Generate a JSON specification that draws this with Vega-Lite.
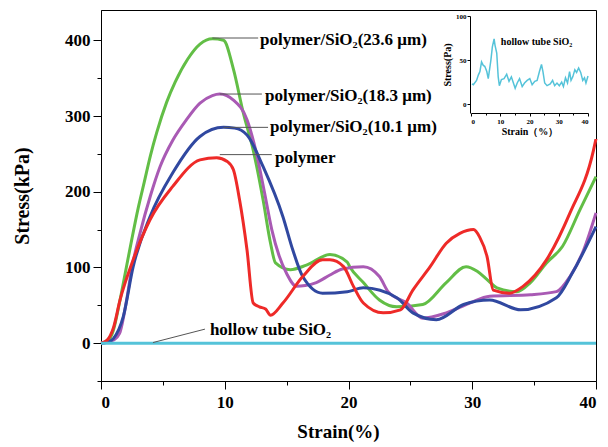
{
  "$schema": "https://vega.github.io/schema/vega-lite/v6.json",
  "width": 495,
  "height": 371,
  "autosize": {"type": "none"},
  "padding": {"left": 101, "top": 10, "right": 12, "bottom": 66},
  "config": {
    "view": {"stroke": "black", "strokeWidth": 1},
    "font": "Liberation Serif",
    "axis": {
      "grid": false,
      "domainColor": "black",
      "tickColor": "black",
      "labelColor": "black",
      "titleColor": "black",
      "labelFont": "Liberation Serif",
      "titleFont": "Liberation Serif",
      "labelFontWeight": "bold",
      "titleFontWeight": "bold"
    }
  },
  "datasets": {
    "main": [
      {"s": "polymer/SiO2(23.6)", "x": 0, "y": 0},
      {"s": "polymer/SiO2(23.6)", "x": 0.5, "y": 2},
      {"s": "polymer/SiO2(23.6)", "x": 1, "y": 17},
      {"s": "polymer/SiO2(23.6)", "x": 1.5, "y": 54},
      {"s": "polymer/SiO2(23.6)", "x": 2, "y": 96},
      {"s": "polymer/SiO2(23.6)", "x": 2.5, "y": 138},
      {"s": "polymer/SiO2(23.6)", "x": 3, "y": 178},
      {"s": "polymer/SiO2(23.6)", "x": 3.5, "y": 213},
      {"s": "polymer/SiO2(23.6)", "x": 4, "y": 248},
      {"s": "polymer/SiO2(23.6)", "x": 4.5, "y": 278},
      {"s": "polymer/SiO2(23.6)", "x": 5.3, "y": 318},
      {"s": "polymer/SiO2(23.6)", "x": 6, "y": 345},
      {"s": "polymer/SiO2(23.6)", "x": 7, "y": 375},
      {"s": "polymer/SiO2(23.6)", "x": 8, "y": 395},
      {"s": "polymer/SiO2(23.6)", "x": 9, "y": 402},
      {"s": "polymer/SiO2(23.6)", "x": 9.9, "y": 400},
      {"s": "polymer/SiO2(23.6)", "x": 10.7, "y": 362},
      {"s": "polymer/SiO2(23.6)", "x": 11.5, "y": 304},
      {"s": "polymer/SiO2(23.6)", "x": 12.3, "y": 255},
      {"s": "polymer/SiO2(23.6)", "x": 13.1, "y": 189},
      {"s": "polymer/SiO2(23.6)", "x": 13.7, "y": 132},
      {"s": "polymer/SiO2(23.6)", "x": 14.1, "y": 106},
      {"s": "polymer/SiO2(23.6)", "x": 15.3, "y": 97},
      {"s": "polymer/SiO2(23.6)", "x": 16.6, "y": 103},
      {"s": "polymer/SiO2(23.6)", "x": 18.5, "y": 117},
      {"s": "polymer/SiO2(23.6)", "x": 19.9, "y": 107},
      {"s": "polymer/SiO2(23.6)", "x": 20.1, "y": 101},
      {"s": "polymer/SiO2(23.6)", "x": 21.2, "y": 80},
      {"s": "polymer/SiO2(23.6)", "x": 22.5, "y": 57},
      {"s": "polymer/SiO2(23.6)", "x": 23.9, "y": 48},
      {"s": "polymer/SiO2(23.6)", "x": 26.0, "y": 51},
      {"s": "polymer/SiO2(23.6)", "x": 27.9, "y": 80},
      {"s": "polymer/SiO2(23.6)", "x": 29.5, "y": 101},
      {"s": "polymer/SiO2(23.6)", "x": 30.4, "y": 95},
      {"s": "polymer/SiO2(23.6)", "x": 31.2, "y": 84},
      {"s": "polymer/SiO2(23.6)", "x": 32.0, "y": 73},
      {"s": "polymer/SiO2(23.6)", "x": 33.6, "y": 68},
      {"s": "polymer/SiO2(23.6)", "x": 34.7, "y": 80},
      {"s": "polymer/SiO2(23.6)", "x": 36.0, "y": 106},
      {"s": "polymer/SiO2(23.6)", "x": 37.3, "y": 128},
      {"s": "polymer/SiO2(23.6)", "x": 38.7, "y": 176},
      {"s": "polymer/SiO2(23.6)", "x": 40, "y": 220},

      {"s": "polymer/SiO2(18.3)", "x": 0, "y": 0},
      {"s": "polymer/SiO2(18.3)", "x": 0.5, "y": 1},
      {"s": "polymer/SiO2(18.3)", "x": 1, "y": 4},
      {"s": "polymer/SiO2(18.3)", "x": 1.5, "y": 13},
      {"s": "polymer/SiO2(18.3)", "x": 2.07, "y": 57},
      {"s": "polymer/SiO2(18.3)", "x": 2.5, "y": 100},
      {"s": "polymer/SiO2(18.3)", "x": 3.15, "y": 145},
      {"s": "polymer/SiO2(18.3)", "x": 4, "y": 195},
      {"s": "polymer/SiO2(18.3)", "x": 4.77, "y": 233},
      {"s": "polymer/SiO2(18.3)", "x": 5.8, "y": 268},
      {"s": "polymer/SiO2(18.3)", "x": 6.9, "y": 295},
      {"s": "polymer/SiO2(18.3)", "x": 8.0, "y": 317},
      {"s": "polymer/SiO2(18.3)", "x": 9.0, "y": 327},
      {"s": "polymer/SiO2(18.3)", "x": 9.6, "y": 329},
      {"s": "polymer/SiO2(18.3)", "x": 10.7, "y": 321},
      {"s": "polymer/SiO2(18.3)", "x": 11.8, "y": 295},
      {"s": "polymer/SiO2(18.3)", "x": 12.5, "y": 255},
      {"s": "polymer/SiO2(18.3)", "x": 13.2, "y": 200},
      {"s": "polymer/SiO2(18.3)", "x": 13.8, "y": 150},
      {"s": "polymer/SiO2(18.3)", "x": 14.4, "y": 115},
      {"s": "polymer/SiO2(18.3)", "x": 15.0, "y": 92},
      {"s": "polymer/SiO2(18.3)", "x": 15.8, "y": 75},
      {"s": "polymer/SiO2(18.3)", "x": 16.5, "y": 76},
      {"s": "polymer/SiO2(18.3)", "x": 17.4, "y": 80},
      {"s": "polymer/SiO2(18.3)", "x": 18.5, "y": 90},
      {"s": "polymer/SiO2(18.3)", "x": 19.5, "y": 98},
      {"s": "polymer/SiO2(18.3)", "x": 21.2, "y": 101},
      {"s": "polymer/SiO2(18.3)", "x": 22.5, "y": 88},
      {"s": "polymer/SiO2(18.3)", "x": 23.2, "y": 68},
      {"s": "polymer/SiO2(18.3)", "x": 24.7, "y": 53},
      {"s": "polymer/SiO2(18.3)", "x": 26.0, "y": 33},
      {"s": "polymer/SiO2(18.3)", "x": 27.9, "y": 40},
      {"s": "polymer/SiO2(18.3)", "x": 29.8, "y": 53},
      {"s": "polymer/SiO2(18.3)", "x": 31.4, "y": 62},
      {"s": "polymer/SiO2(18.3)", "x": 34.7, "y": 64},
      {"s": "polymer/SiO2(18.3)", "x": 36.8, "y": 68},
      {"s": "polymer/SiO2(18.3)", "x": 37.9, "y": 88},
      {"s": "polymer/SiO2(18.3)", "x": 39.0, "y": 123},
      {"s": "polymer/SiO2(18.3)", "x": 40, "y": 172},

      {"s": "polymer/SiO2(10.1)", "x": 0, "y": 0},
      {"s": "polymer/SiO2(10.1)", "x": 0.5, "y": 1},
      {"s": "polymer/SiO2(10.1)", "x": 1, "y": 6},
      {"s": "polymer/SiO2(10.1)", "x": 1.8, "y": 35},
      {"s": "polymer/SiO2(10.1)", "x": 2.6, "y": 101},
      {"s": "polymer/SiO2(10.1)", "x": 3.96, "y": 167},
      {"s": "polymer/SiO2(10.1)", "x": 5.8, "y": 225},
      {"s": "polymer/SiO2(10.1)", "x": 8.0, "y": 273},
      {"s": "polymer/SiO2(10.1)", "x": 9.9, "y": 285},
      {"s": "polymer/SiO2(10.1)", "x": 10.8, "y": 284},
      {"s": "polymer/SiO2(10.1)", "x": 11.8, "y": 275},
      {"s": "polymer/SiO2(10.1)", "x": 13.1, "y": 233},
      {"s": "polymer/SiO2(10.1)", "x": 14.7, "y": 167},
      {"s": "polymer/SiO2(10.1)", "x": 15.5, "y": 123},
      {"s": "polymer/SiO2(10.1)", "x": 16.3, "y": 88},
      {"s": "polymer/SiO2(10.1)", "x": 17.9, "y": 66},
      {"s": "polymer/SiO2(10.1)", "x": 19.9, "y": 68},
      {"s": "polymer/SiO2(10.1)", "x": 21.2, "y": 73},
      {"s": "polymer/SiO2(10.1)", "x": 23.9, "y": 60},
      {"s": "polymer/SiO2(10.1)", "x": 25.2, "y": 40},
      {"s": "polymer/SiO2(10.1)", "x": 27.1, "y": 31},
      {"s": "polymer/SiO2(10.1)", "x": 29.3, "y": 51},
      {"s": "polymer/SiO2(10.1)", "x": 31.4, "y": 57},
      {"s": "polymer/SiO2(10.1)", "x": 33.9, "y": 44},
      {"s": "polymer/SiO2(10.1)", "x": 36.8, "y": 60},
      {"s": "polymer/SiO2(10.1)", "x": 38.1, "y": 93},
      {"s": "polymer/SiO2(10.1)", "x": 40, "y": 154},

      {"s": "polymer", "x": 0, "y": 0},
      {"s": "polymer", "x": 0.5, "y": 4},
      {"s": "polymer", "x": 1, "y": 20},
      {"s": "polymer", "x": 1.54, "y": 57},
      {"s": "polymer", "x": 2.6, "y": 110},
      {"s": "polymer", "x": 3.96, "y": 163},
      {"s": "polymer", "x": 5.8, "y": 207},
      {"s": "polymer", "x": 8.0, "y": 242},
      {"s": "polymer", "x": 9.35, "y": 245},
      {"s": "polymer", "x": 10.2, "y": 240},
      {"s": "polymer", "x": 10.7, "y": 229},
      {"s": "polymer", "x": 11.2, "y": 189},
      {"s": "polymer", "x": 11.8, "y": 123},
      {"s": "polymer", "x": 12.3, "y": 53},
      {"s": "polymer", "x": 12.8, "y": 48},
      {"s": "polymer", "x": 13.3, "y": 45},
      {"s": "polymer", "x": 13.7, "y": 37},
      {"s": "polymer", "x": 14.7, "y": 53},
      {"s": "polymer", "x": 16.3, "y": 88},
      {"s": "polymer", "x": 17.9, "y": 110},
      {"s": "polymer", "x": 18.5, "y": 110},
      {"s": "polymer", "x": 19.6, "y": 101},
      {"s": "polymer", "x": 20.4, "y": 75},
      {"s": "polymer", "x": 21.2, "y": 53},
      {"s": "polymer", "x": 22.8, "y": 40},
      {"s": "polymer", "x": 24.2, "y": 44},
      {"s": "polymer", "x": 25.2, "y": 70},
      {"s": "polymer", "x": 26.6, "y": 101},
      {"s": "polymer", "x": 27.9, "y": 132},
      {"s": "polymer", "x": 29.0, "y": 145},
      {"s": "polymer", "x": 30.1, "y": 150},
      {"s": "polymer", "x": 30.6, "y": 140},
      {"s": "polymer", "x": 31.2, "y": 114},
      {"s": "polymer", "x": 31.7, "y": 70},
      {"s": "polymer", "x": 33.0, "y": 66},
      {"s": "polymer", "x": 34.1, "y": 75},
      {"s": "polymer", "x": 36.0, "y": 110},
      {"s": "polymer", "x": 37.9, "y": 172},
      {"s": "polymer", "x": 39.8, "y": 255},
      {"s": "polymer", "x": 40, "y": 270},

      {"s": "hollow tube SiO2", "x": 0, "y": 0},
      {"s": "hollow tube SiO2", "x": 40, "y": 0}
    ],
    "inset": [
      {"x": 0.34, "y": 23}, {"x": 0.8, "y": 22}, {"x": 1.9, "y": 27}, {"x": 2.5, "y": 33},
      {"x": 3.05, "y": 37}, {"x": 3.6, "y": 48}, {"x": 4.2, "y": 44}, {"x": 4.7, "y": 43},
      {"x": 5.4, "y": 37}, {"x": 5.9, "y": 29}, {"x": 6.8, "y": 50}, {"x": 7.3, "y": 65},
      {"x": 7.9, "y": 74}, {"x": 8.2, "y": 67}, {"x": 8.8, "y": 58}, {"x": 9.3, "y": 31},
      {"x": 9.7, "y": 21}, {"x": 10.4, "y": 28}, {"x": 11.3, "y": 29}, {"x": 12.2, "y": 34},
      {"x": 13.0, "y": 26}, {"x": 13.8, "y": 31}, {"x": 14.5, "y": 24}, {"x": 15.1, "y": 18},
      {"x": 15.8, "y": 24}, {"x": 16.6, "y": 29}, {"x": 17.5, "y": 20}, {"x": 18.3, "y": 24},
      {"x": 19.2, "y": 27}, {"x": 20.1, "y": 29}, {"x": 20.9, "y": 22}, {"x": 21.8, "y": 26},
      {"x": 22.6, "y": 27}, {"x": 23.4, "y": 37}, {"x": 24.1, "y": 45}, {"x": 24.6, "y": 37},
      {"x": 25.2, "y": 24}, {"x": 26.0, "y": 21}, {"x": 27.1, "y": 23}, {"x": 27.9, "y": 27},
      {"x": 28.6, "y": 21}, {"x": 29.4, "y": 24}, {"x": 30.2, "y": 21}, {"x": 31.0, "y": 25},
      {"x": 31.6, "y": 20}, {"x": 32.3, "y": 30}, {"x": 33.0, "y": 24}, {"x": 33.7, "y": 37},
      {"x": 34.2, "y": 27}, {"x": 34.8, "y": 31}, {"x": 35.5, "y": 39}, {"x": 36.1, "y": 36},
      {"x": 36.8, "y": 41}, {"x": 37.5, "y": 36}, {"x": 38.2, "y": 27}, {"x": 38.8, "y": 30},
      {"x": 39.3, "y": 24}, {"x": 40.0, "y": 32}
    ],
    "ann": [
      {"label": "polymer/SiO₂(23.6 μm)", "lx1": 9.0, "lx2": 12.7, "ly1": 403, "ly2": 403, "tx": 12.85, "ty": 400},
      {"label": "polymer/SiO₂(18.3 μm)", "lx1": 9.6, "lx2": 13.0, "ly1": 329, "ly2": 329, "tx": 13.25, "ty": 327},
      {"label": "polymer/SiO₂(10.1 μm)", "lx1": 9.9, "lx2": 13.5, "ly1": 285, "ly2": 285, "tx": 13.66, "ty": 285},
      {"label": "polymer", "lx1": 9.6, "lx2": 13.8, "ly1": 249, "ly2": 249, "tx": 14.06, "ty": 245},
      {"label": "hollow tube SiO₂", "lx1": 4.2, "lx2": 8.4, "ly1": 0.8, "ly2": 18.5, "tx": 8.8, "ty": 17.6}
    ]
  },
  "layer": [
    {
      "layer": [
        {
          "data": {"name": "main"},
          "mark": {"type": "line", "strokeWidth": 3, "strokeJoin": "round", "interpolate": "monotone"},
          "encoding": {
            "x": {
              "field": "x", "type": "quantitative",
              "scale": {"domain": [0, 40], "nice": false, "zero": false},
              "axis": {
                "title": "Strain(%)",
                "values": [0, 5, 10, 15, 20, 25, 30, 35, 40],
                "labelExpr": "datum.value % 10 === 0 ? datum.label : ''",
                "tickSize": {"condition": {"test": "datum.value % 10 === 0", "value": 8}, "value": 4},
                "labelFontSize": 17,
                "labelPadding": 5,
                "titleFontSize": 19,
                "titlePadding": 12,
                "titleX": 237
              }
            },
            "y": {
              "field": "y", "type": "quantitative",
              "scale": {"domain": [-50, 440], "nice": false, "zero": false},
              "axis": {
                "title": "Stress(kPa)",
                "values": [-50, 0, 50, 100, 150, 200, 250, 300, 350, 400],
                "labelExpr": "datum.value % 100 === 0 ? datum.label : ''",
                "tickSize": {"condition": {"test": "datum.value % 100 === 0", "value": 8}, "value": 4},
                "labelFontSize": 17,
                "labelPadding": 3,
                "titleFontSize": 20,
                "titlePadding": 32
              }
            },
            "color": {
              "field": "s", "type": "nominal", "legend": null,
              "scale": {
                "domain": ["polymer/SiO2(23.6)", "polymer/SiO2(18.3)", "polymer/SiO2(10.1)", "polymer", "hollow tube SiO2"],
                "range": ["#62be46", "#a95ab4", "#3048a0", "#ee2a28", "#55c3d9"]
              }
            },
            "strokeWidth": {
              "field": "s", "type": "nominal", "legend": null,
              "scale": {
                "domain": ["polymer/SiO2(23.6)", "polymer/SiO2(18.3)", "polymer/SiO2(10.1)", "polymer", "hollow tube SiO2"],
                "range": [3, 3, 3, 3, 4]
              }
            }
          }
        },
        {
          "data": {"name": "ann"},
          "mark": {"type": "rule", "color": "#555555", "strokeWidth": 1},
          "encoding": {
            "x": {"field": "lx1", "type": "quantitative", "scale": {"domain": [0, 40], "nice": false, "zero": false}},
            "x2": {"field": "lx2"},
            "y": {"field": "ly1", "type": "quantitative", "scale": {"domain": [-50, 440], "nice": false, "zero": false}},
            "y2": {"field": "ly2"}
          }
        },
        {
          "data": {"name": "ann"},
          "mark": {"type": "text", "align": "left", "baseline": "middle", "font": "Liberation Serif", "fontWeight": "bold", "fontSize": 17, "color": "black"},
          "encoding": {
            "x": {"field": "tx", "type": "quantitative", "scale": {"domain": [0, 40], "nice": false, "zero": false}},
            "y": {"field": "ty", "type": "quantitative", "scale": {"domain": [-50, 440], "nice": false, "zero": false}},
            "text": {"field": "label"}
          }
        }
      ]
    },
    {
      "layer": [
        {
          "data": {"name": "inset"},
          "mark": {"type": "line", "color": "#55c3d9", "strokeWidth": 1.5},
          "encoding": {
            "x": {
              "field": "x", "type": "quantitative",
              "scale": {"domain": [0, 40], "range": [370, 487], "nice": false, "zero": false},
              "axis": {
                "orient": "bottom",
                "offset": -268,
                "title": "Strain（%）",
                "values": [0, 5, 10, 15, 20, 25, 30, 35, 40],
                "labelExpr": "datum.value % 10 === 0 ? datum.label : ''",
                "tickSize": {"condition": {"test": "datum.value % 10 === 0", "value": 3}, "value": 2},
                "labelFontSize": 7,
                "labelPadding": 1,
                "titleFontSize": 10,
                "titlePadding": 2
              }
            },
            "y": {
              "field": "y", "type": "quantitative",
              "scale": {"domain": [-10, 100], "range": [103, 6], "nice": false, "zero": false},
              "axis": {
                "orient": "left",
                "offset": -369,
                "title": "Stress(Pa)",
                "values": [0, 50, 100],
                "tickSize": 3,
                "labelFontSize": 7,
                "labelPadding": 1,
                "titleFontSize": 10,
                "titlePadding": 3
              }
            }
          }
        },
        {
          "data": {"values": [{"tx": 10.2, "ty": 70.5, "label": "hollow tube SiO₂"}]},
          "mark": {"type": "text", "align": "left", "baseline": "middle", "font": "Liberation Serif", "fontWeight": "bold", "fontSize": 10, "color": "black"},
          "encoding": {
            "x": {"field": "tx", "type": "quantitative", "scale": {"domain": [0, 40], "range": [370, 487], "nice": false, "zero": false}},
            "y": {"field": "ty", "type": "quantitative", "scale": {"domain": [-10, 100], "range": [103, 6], "nice": false, "zero": false}},
            "text": {"field": "label"}
          }
        }
      ]
    }
  ],
  "resolve": {
    "scale": {"x": "independent", "y": "independent", "color": "independent", "strokeWidth": "independent"},
    "axis": {"x": "independent", "y": "independent"}
  }
}
